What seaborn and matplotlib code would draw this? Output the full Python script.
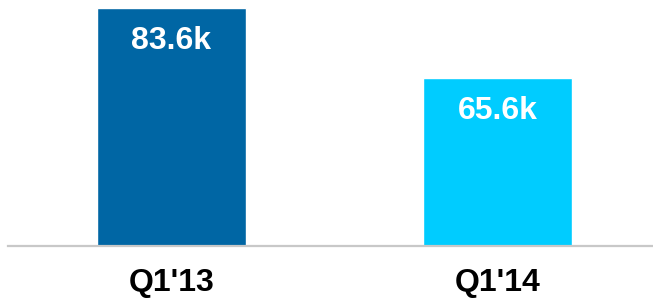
import seaborn as sns
import matplotlib.pyplot as plt

quarters = ["Q1'13", "Q1'14"]
values = [83.6, 65.6]
labels = ["83.6k", "65.6k"]
bar_colors = ["#0066A4", "#00CCFF"]

sns.set_style("white")
plt.rcParams['font.family'] = ['Liberation Sans', 'DejaVu Sans']

fig = plt.figure(figsize=(6.53, 3.01), dpi=100)
ax = fig.add_axes([8 / 653, 55 / 301, 645 / 653, 238 / 301])

sns.barplot(x=quarters, y=values, hue=quarters, palette=bar_colors,
            width=0.457, legend=False, saturation=1, ax=ax)

ax.set_ylim(22.4, 83.6)
ax.set_xlim(-0.5015, 1.477)

# value labels inside the bars
for i, (v, lab) in enumerate(zip(values, labels)):
    ax.annotate(lab, (i, v), xytext=(0, -24), textcoords="offset points",
                ha="center", va="center", color="white",
                fontsize=23, fontweight="bold")

for s in ["top", "left", "right"]:
    ax.spines[s].set_visible(False)
ax.spines["bottom"].set_color("#c8c8c8")
ax.spines["bottom"].set_linewidth(1.6)
ax.set_yticks([])
ax.tick_params(axis="x", length=0, pad=16, labelsize=23, labelcolor="black")
for t in ax.get_xticklabels():
    t.set_fontweight("bold")
ax.set_xlabel("")
ax.set_ylabel("")

fig.savefig("out.png", dpi=100)
